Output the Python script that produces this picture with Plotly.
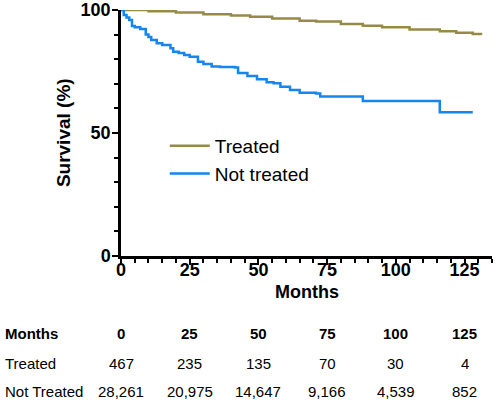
import plotly.graph_objects as go

# Kaplan-Meier-like curves (months, survival %)
treated_months = [0, 10, 20, 30, 40, 47, 55, 65, 71, 80, 88, 95, 105, 116, 122, 128, 131]
treated_surv = [100, 99.5, 99, 98.3, 97.8, 97.3, 96.5, 95.6, 95.3, 94.3, 93.6, 93, 92.1, 91.4, 90.8, 90.2, 89.8]

not_treated_months = [0, 1, 2, 3, 4, 5, 7, 9, 10, 11, 13, 15, 18, 19, 21, 23, 25, 28, 30, 33, 36,
                      41.5, 42.6, 46, 49.5, 53, 55.5, 58, 61.5, 65, 71, 72.5, 88, 116, 128]
not_treated_surv = [100, 98, 97, 95.9, 93.5, 93, 92.3, 90, 89, 87.8, 86.5, 85.8, 84.5, 83, 82.5, 81.7, 81,
                    79, 78, 77, 76.8, 76.6, 74.4, 73.2, 71.8, 70.6, 70.2, 68.8, 67.5, 66.4, 66.1, 64.8,
                    63, 58.4, 58.4]

# Numbers at risk table
table_months = [0, 25, 50, 75, 100, 125]
risk_treated = ["467", "235", "135", "70", "30", "4"]
risk_not_treated = ["28,261", "20,975", "14,647", "9,166", "4,539", "852"]

GOLD = "#978a47"
BLUE = "#1585f0"
FONT = "Liberation Sans, Arial, sans-serif"

fig = go.Figure()
fig.add_trace(go.Scatter(x=treated_months, y=treated_surv, mode="lines", name="Treated",
                         line=dict(color=GOLD, width=2.5, shape="hv"), legendgroup="a"))
fig.add_trace(go.Scatter(x=not_treated_months, y=not_treated_surv, mode="lines", name="Not treated",
                         line=dict(color=BLUE, width=2.5, shape="hv"), legendgroup="b"))

annotations = []
# Axis titles
annotations.append(dict(text="<b>Months</b>", x=0.5, y=-0.148, xref="paper", yref="paper",
                        showarrow=False, xanchor="center", yanchor="middle",
                        font=dict(size=18, family=FONT, color="black")))
annotations.append(dict(text="<b>Survival (%)</b>", x=-0.156, y=0.5, xref="paper", yref="paper",
                        showarrow=False, textangle=-90, xanchor="center", yanchor="middle",
                        font=dict(size=19, family=FONT, color="black")))

rows_y = [-0.317, -0.435, -0.549]
row_labels = ["<b>Months</b>", "Treated", "Not Treated"]
for lab, yy in zip(row_labels, rows_y):
    annotations.append(dict(text=lab, x=-0.318, y=yy, xref="paper", yref="paper", showarrow=False,
                            xanchor="left", yanchor="middle",
                            font=dict(size=15, family=FONT, color="black")))
for i, m in enumerate(table_months):
    annotations.append(dict(text=f"<b>{m}</b>", x=m, y=rows_y[0], xref="x", yref="paper",
                            showarrow=False, xanchor="center", yanchor="middle",
                            font=dict(size=15, family=FONT, color="black")))
    annotations.append(dict(text=risk_treated[i], x=m, y=rows_y[1], xref="x", yref="paper",
                            showarrow=False, xanchor="center", yanchor="middle",
                            font=dict(size=15, family=FONT, color="black")))
    annotations.append(dict(text=risk_not_treated[i], x=m, y=rows_y[2], xref="x", yref="paper",
                            showarrow=False, xanchor="center", yanchor="middle",
                            font=dict(size=15, family=FONT, color="black")))

fig.update_layout(
    width=500, height=402,
    margin=dict(l=121, r=8, t=10, b=146, autoexpand=False),
    paper_bgcolor="white", plot_bgcolor="white",
    showlegend=True,
    legend=dict(x=0.118, y=0.525, xanchor="left", yanchor="top", bgcolor="rgba(0,0,0,0)",
                font=dict(size=19, family=FONT, color="black"), tracegroupgap=0, itemwidth=40),
    annotations=annotations,
    font=dict(family=FONT, color="black"),
)
fig.update_xaxes(range=[0, 135], showgrid=False, zeroline=False, showline=True, linecolor="black",
                 linewidth=2.5, ticks="outside", ticklen=6, tickwidth=2, tickcolor="black",
                 tickmode="array", tickvals=table_months, ticktext=[str(v) for v in table_months],
                 ticklabelstandoff=-10,
                 tickfont=dict(size=18, family=FONT, color="black", weight="bold"),
                 minor=dict(dtick=5, tick0=0, ticks="outside", ticklen=4, tickwidth=2, tickcolor="black"))
fig.update_yaxes(range=[0, 100], showgrid=False, zeroline=False, showline=True, linecolor="black",
                 linewidth=2.5, ticks="outside", ticklen=6, tickwidth=2, tickcolor="black",
                 tickvals=[0, 50, 100], ticklabelstandoff=-2,
                 tickfont=dict(size=18, family=FONT, color="black", weight="bold"),
                 minor=dict(dtick=10, tick0=0, ticks="outside", ticklen=4, tickwidth=2, tickcolor="black"))

fig.write_html("out.html", config={"displayModeBar": False},
               post_script="document.body.style.margin='0';")
